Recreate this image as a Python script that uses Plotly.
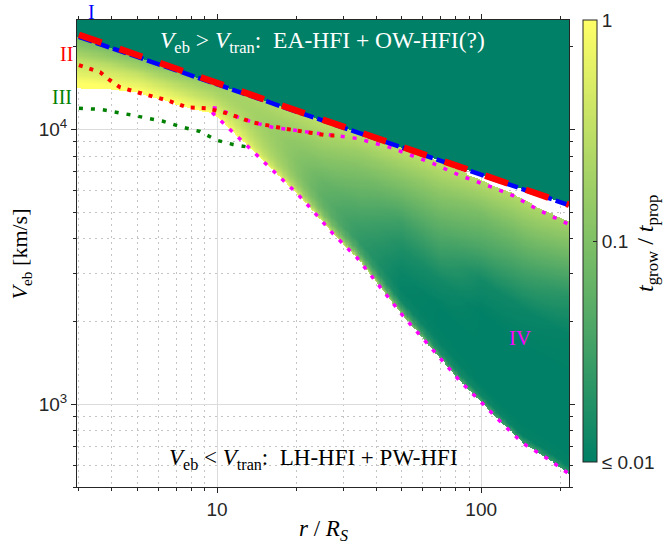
import numpy as np
import plotly.graph_objects as go

# ---------------- data ----------------
R_MIN, R_MAX = 2.95, 215
V_MIN, V_MAX = 500, 25000

# curve I (blue dashed) and II (red dashed)
LINE_I_R = [3, 5, 10, 20, 50, 100, 215]
LINE_I_V = [21700, 18300, 14600, 11600, 8600, 6850, 5300]
LINE_II_R = [3, 5, 10, 20, 50, 100, 215]
LINE_II_V = [22100, 18550, 14750, 11700, 8650, 6880, 5320]

# red dotted curve
LINE_IID_R = [3.0, 3.61, 3.93, 4.29, 4.98, 6.47, 7.70, 9.17, 10.9, 13.7, 17.8, 21.9, 26.1, 29.2]
LINE_IID_V = [17130, 16150, 15100, 14230, 13650, 12760, 12030, 11930, 11440, 10600, 10080, 9750, 9510, 9510]

# curve III (green dotted)
LINE_III_R = [3.0, 3.61, 4.81, 6.25, 7.43, 8.62, 10, 11.5, 13.3]
LINE_III_V = [11930, 11830, 11250, 10700, 10170, 9830, 9120, 8815, 8600]

# curve IV (magenta dotted): upper branch (right to left), lower branch (left to right)
IV_UP_R = [212, 167, 132, 111, 83.2, 65.8, 45.2, 33.9, 27.5, 20.1, 16.3, 13.7, 11.5, 10, 9.41]
IV_UP_V = [4540, 5060, 5740, 6140, 6795, 7515, 8600, 9270, 9510, 9920, 10170, 10600, 11250, 11930, 12030]
IV_LOW_R = [9.66, 11.5, 14.2, 16.3, 20.1, 22.5, 27.5, 33.9, 42.5, 50.6, 61.4, 83.2, 101.8, 121, 144, 178, 214]
IV_LOW_V = [11440, 9750, 8040, 7090, 5840, 5190, 4170, 3410, 2585, 2095, 1698, 1213, 1000, 845, 721, 635, 560]

# edges of the coloured (unstable) region
LOWER_R = [2.95, 3.93, 5.11, 6.47, 7.90, 9.01] + IV_LOW_R
LOWER_V = [14110, 13990, 13530, 12650, 11930, 11530] + IV_LOW_V
UPPER_R = [2.95, 10, 30, 60, 83, 111, 132, 167, 215]
UPPER_V = [21800, 14600, 10160, 8090, 7080, 6245, 5840, 5150, 4620]

# t_grow/t_prop read at columns r and relative heights s (0 = lower edge, 1 = upper edge)
R_COLS = [3, 5, 8, 12, 18, 25, 35, 50, 70, 100, 150, 215]
S_ROWS = [0, 0.03, 0.08, 0.15, 0.25, 0.4, 0.55, 0.7, 0.85, 1.0]
RATIO = [
    [1.0, 1.0, 1.0, 0.87, 0.63, 0.44, 0.29, 0.17, 0.11, 0.079],
    [1.0, 1.0, 1.0, 0.79, 0.63, 0.46, 0.32, 0.20, 0.14, 0.10],
    [1.0, 1.0, 0.91, 0.72, 0.58, 0.40, 0.30, 0.23, 0.17, 0.13],
    [1.0, 0.85, 0.66, 0.52, 0.42, 0.32, 0.25, 0.21, 0.20, 0.20],
    [0.79, 0.45, 0.28, 0.2, 0.16, 0.14, 0.14, 0.16, 0.21, 0.28],
    [0.50, 0.2, 0.1, 0.066, 0.055, 0.066, 0.095, 0.14, 0.21, 0.32],
    [0.32, 0.08, 0.035, 0.023, 0.027, 0.04, 0.063, 0.095, 0.16, 0.32],
    [0.13, 0.035, 0.013, 0.011, 0.012, 0.017, 0.03, 0.066, 0.14, 0.32],
    [0.05, 0.016, 0.011, 0.01, 0.01, 0.014, 0.03, 0.06, 0.13, 0.32],
    [0.04, 0.013, 0.01, 0.01, 0.01, 0.01, 0.014, 0.04, 0.09, 0.28],
    [0.032, 0.011, 0.01, 0.01, 0.01, 0.01, 0.012, 0.03, 0.085, 0.25],
    [0.025, 0.011, 0.01, 0.01, 0.01, 0.01, 0.011, 0.02, 0.063, 0.20],
]
FLOOR_VALUE = 0.01   # value above curve I

X_TICKS = [10, 100]
X_TICKTEXT = ["10", "100"]
X_MINOR = [3, 4, 5, 6, 7, 8, 9, 20, 30, 40, 50, 60, 70, 80, 90, 200]
Y_TICKS = [1000, 10000]
Y_TICKTEXT = ["10<sup>3</sup>", "10<sup>4</sup>"]
Y_MINOR = [500, 600, 700, 800, 900, 2000, 3000, 4000, 5000, 6000, 7000, 8000, 9000, 20000]
CB_TICKS = [0.01, 0.1, 1]
CB_TICKTEXT = ["\u2264 0.01", "0.1", "1"]

# ---------------- raster of the field ----------------
NX, NY = 420, 420
lr_e = np.linspace(np.log10(R_MIN), np.log10(R_MAX), NX + 1)
lv_e = np.linspace(np.log10(V_MIN), np.log10(V_MAX), NY + 1)
lrc = 0.5 * (lr_e[1:] + lr_e[:-1])
lvc = 0.5 * (lv_e[1:] + lv_e[:-1])

lgI = np.interp(lrc, np.log10(LINE_I_R), np.log10(LINE_I_V))
lgUp = np.interp(lrc, np.log10(UPPER_R), np.log10(UPPER_V))
lgLow = np.interp(lrc, np.log10(LOWER_R), np.log10(LOWER_V))
tab = np.log10(np.array(RATIO))
colv = np.array([np.interp(lrc, np.log10(R_COLS), tab[:, k]) for k in range(len(S_ROWS))])

LV = lvc[:, None]
s = (LV - lgLow[None, :]) / (lgUp - lgLow)[None, :]
Z = np.full((NY, NX), np.nan)
inside = (s >= 0) & (s <= 1)
for i in range(NX):
    m = inside[:, i]
    if m.any():
        Z[m, i] = np.interp(s[m, i], S_ROWS, colv[:, i])
Z[LV >= lgI[None, :]] = np.log10(FLOOR_VALUE)

SERIF = "Liberation Serif, Times New Roman, serif"
SANS = "Liberation Sans, Arial, sans-serif"
AX = "#262626"
NB = "\u00a0"

fig = go.Figure()
fig.add_trace(go.Heatmap(
    x=10 ** lr_e, y=10 ** lv_e, z=Z, zmin=-2, zmax=0, zsmooth=False,
    colorscale=[[0, "#008066"], [1, "#ffff66"]], hoverinfo="skip",
    colorbar=dict(
        x=1.0285, xanchor="left", xref="paper", xpad=0, ypad=0,
        y=1, yanchor="top", len=0.946, lenmode="fraction",
        thickness=14, thicknessmode="pixels",
        outlinewidth=1, outlinecolor=AX,
        tickmode="array", tickvals=list(np.log10(CB_TICKS)), ticktext=CB_TICKTEXT,
        ticks="inside", ticklen=4, tickcolor=AX,
        tickfont=dict(family=SANS, size=19, color=AX),
    ),
))

fig.add_trace(go.Scatter(x=LINE_III_R, y=LINE_III_V, mode="lines",
                         line=dict(color="#008000", width=3.5, dash="4px,8px"), hoverinfo="skip"))
fig.add_trace(go.Scatter(x=IV_UP_R + IV_LOW_R, y=IV_UP_V + IV_LOW_V, mode="lines",
                         line=dict(color="#ff00ff", width=3.5, dash="4px,8px"), hoverinfo="skip"))
fig.add_trace(go.Scatter(x=LINE_IID_R, y=LINE_IID_V, mode="lines",
                         line=dict(color="#ff0000", width=4, dash="4px,7px"), hoverinfo="skip"))
fig.add_trace(go.Scatter(x=LINE_I_R, y=LINE_I_V, mode="lines",
                         line=dict(color="#0000ff", width=4.5, dash="14px,4px"), hoverinfo="skip"))
fig.add_trace(go.Scatter(x=LINE_II_R, y=LINE_II_V, mode="lines",
                         line=dict(color="#ff0000", width=6.5, dash="24px,19px"), hoverinfo="skip"))

axis_common = dict(
    type="log", showline=True, linecolor=AX, linewidth=1, mirror="ticks",
    ticks="outside", ticklen=5, tickcolor=AX, tickwidth=1,
    showgrid=True, gridcolor="#dcdcdc", gridwidth=1, zeroline=False,
    tickfont=dict(family=SANS, size=19, color=AX), tickmode="array",
)
fig.update_xaxes(**axis_common, range=[np.log10(R_MIN), np.log10(R_MAX)],
                 tickvals=X_TICKS, ticktext=X_TICKTEXT,
                 minor=dict(tickmode="array", tickvals=X_MINOR, ticks="outside", ticklen=3,
                            tickcolor=AX, showgrid=True, gridcolor="#c4c4c4", griddash="2px,4px"))
fig.update_yaxes(**axis_common, range=[np.log10(V_MIN), np.log10(V_MAX)],
                 tickvals=Y_TICKS, ticktext=Y_TICKTEXT,
                 minor=dict(tickmode="array", tickvals=Y_MINOR, ticks="outside", ticklen=3,
                            tickcolor=AX, showgrid=True, gridcolor="#c4c4c4", griddash="2px,4px"))

ann = []
def A(text, x, y, color, size, angle=0):
    ann.append(dict(text=text, x=x, y=y, xref="paper", yref="paper", showarrow=False,
                    xanchor="center", yanchor="middle", textangle=angle,
                    font=dict(family=SERIF, size=size, color=color)))

A("<i>V</i><sub>eb</sub> &gt; <i>V</i><sub>tran</sub>:" + NB + " EA-HFI + OW-HFI(?)", 0.498, 0.953, "white", 23.5)
A("<i>V</i><sub>eb</sub> &lt; <i>V</i><sub>tran</sub>:" + NB + " LH-HFI + PW-HFI", 0.48, 0.06, "black", 23)
A("I", 0.0285, 1.017, "#0000ff", 20)
A("II", -0.022, 0.927, "#ff0000", 20)
A("III", -0.030, 0.835, "#008000", 20)
A("IV", 0.900, 0.319, "#ff00ff", 21)
A("<i>V</i><sub>eb</sub> [km/s]", -0.114, 0.50, "black", 22, -90)
A("<i>r</i> / <i>R<sub>S</sub></i>", 0.50, -0.092, "black", 23)
A("<i>t</i><sub>grow</sub>" + NB + "/" + NB + "<i>t</i><sub>prop</sub>", 1.1585, 0.5225, "black", 24, -90)

fig.update_layout(
    width=663, height=550, showlegend=False,
    margin=dict(l=77, r=94, t=20, b=63, autoexpand=False),
    paper_bgcolor="white", plot_bgcolor="white",
    annotations=ann,
)
fig.write_html("out.html", config={"displayModeBar": False},
               post_script="document.body.style.margin='0';document.body.style.overflow='hidden';")
